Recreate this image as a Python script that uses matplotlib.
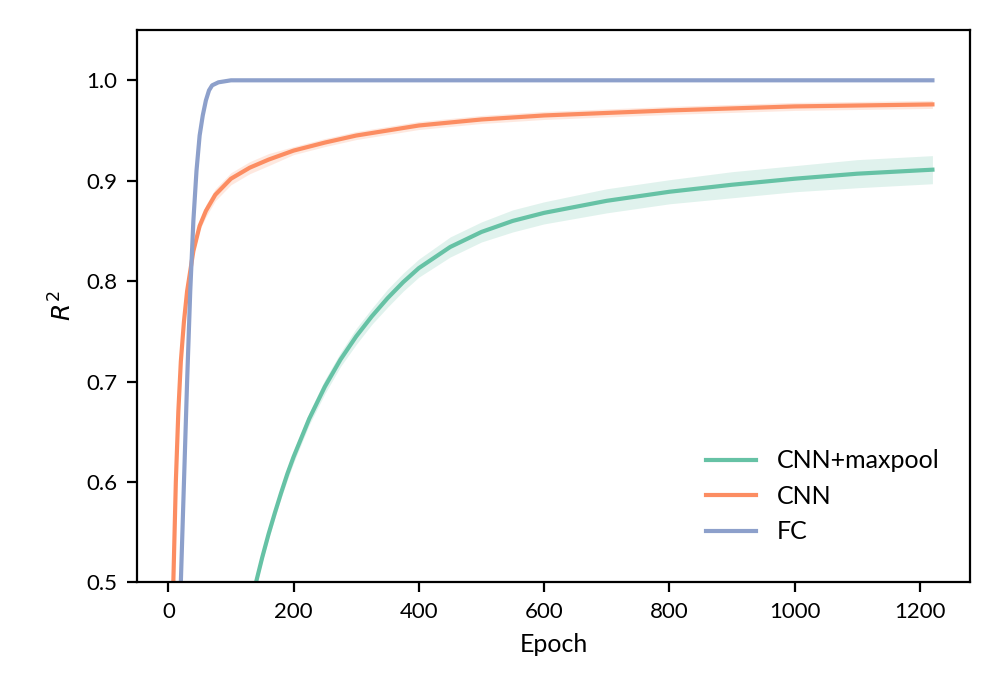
import matplotlib
matplotlib.use("Agg")
import matplotlib.pyplot as plt

plt.rcParams['font.family'] = ['Lato', 'DejaVu Sans']

# values
pool_x = [140, 150, 160, 170, 180, 190, 200, 225, 250, 275, 300, 325, 350, 375, 400, 450, 500, 550, 600, 700, 800, 900, 1000, 1100, 1220]
pool_y = [0.50, 0.525, 0.548, 0.569, 0.589, 0.608, 0.625, 0.663, 0.695, 0.722, 0.745, 0.765, 0.783, 0.799, 0.813, 0.834, 0.849, 0.860, 0.868, 0.880, 0.889, 0.896, 0.902, 0.907, 0.911]
pool_err = [0.004, 0.004, 0.005, 0.005, 0.005, 0.006, 0.006, 0.006, 0.007, 0.007, 0.008, 0.008, 0.009, 0.009, 0.009,
            0.010, 0.010, 0.011, 0.011, 0.012, 0.012, 0.013, 0.013, 0.014, 0.014]

cnn_x = [5, 8, 12, 16, 20, 25, 30, 40, 50, 60, 75, 100, 130, 160, 200, 250, 300, 400, 500, 600, 800, 1000, 1220]
cnn_y = [0.40, 0.50, 0.60, 0.67, 0.72, 0.76, 0.79, 0.83, 0.855, 0.87, 0.886, 0.902, 0.913, 0.921, 0.930, 0.938, 0.945, 0.955, 0.961, 0.965, 0.970, 0.974, 0.976]
cnn_err = [0.004] * 9 + [0.006] * 5 + [0.004] * 9

fc_x = [15, 20, 25, 30, 35, 40, 45, 50, 55, 60, 65, 70, 80, 90, 100, 200, 400, 800, 1220]
fc_y = [0.40, 0.50, 0.60, 0.70, 0.79, 0.86, 0.91, 0.945, 0.965, 0.98, 0.99, 0.995, 0.998, 0.999, 1.0, 1.0, 1.0, 1.0, 1.0]

fig, ax = plt.subplots(figsize=(5, 3.5), dpi=200)
c_pool, c_cnn, c_fc = "#66c2a5", "#fc8d62", "#8da0cb"

ax.fill_between(pool_x, [y - e for y, e in zip(pool_y, pool_err)],
                [y + e for y, e in zip(pool_y, pool_err)], color=c_pool, alpha=0.2, lw=0)
ax.plot(pool_x, pool_y, color=c_pool, lw=1.5, label="CNN+maxpool")
ax.fill_between(cnn_x, [y - e for y, e in zip(cnn_y, cnn_err)],
                [y + e for y, e in zip(cnn_y, cnn_err)], color=c_cnn, alpha=0.2, lw=0)
ax.plot(cnn_x, cnn_y, color=c_cnn, lw=1.5, label="CNN")
ax.plot(fc_x, fc_y, color=c_fc, lw=1.5, label="FC")

ax.set_xlim(-50, 1280)
ax.set_ylim(0.5, 1.05)
ax.set_xticks([0, 200, 400, 600, 800, 1000, 1200])
ax.set_yticks([0.5, 0.6, 0.7, 0.8, 0.9, 1.0])
ax.set_xlabel("Epoch", fontsize=9)
ax.set_ylabel("$R^2$", fontsize=9)
ax.tick_params(labelsize=8)
ax.legend(loc="lower right", frameon=False, fontsize=9, bbox_to_anchor=(0.99, 0.03))
fig.subplots_adjust(left=0.137, right=0.97, top=0.957, bottom=0.168)
fig.savefig("out.png", dpi=200)
